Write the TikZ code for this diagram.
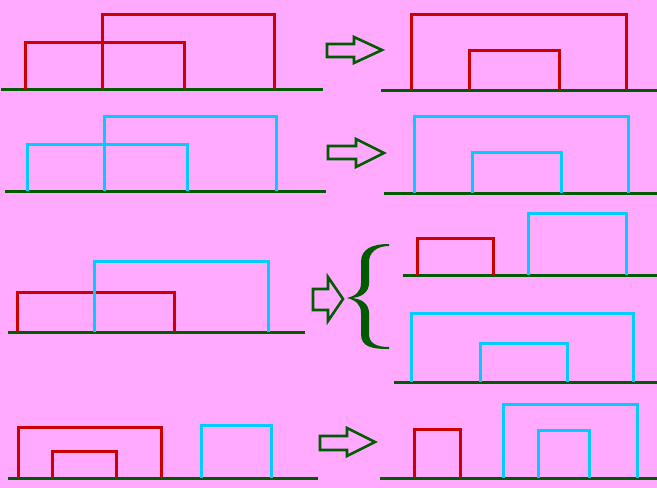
\documentclass[tikz,border=0pt]{standalone}
\definecolor{bgpink}{RGB}{255,170,255}
\definecolor{rd}{RGB}{204,0,0}
\definecolor{bl}{RGB}{0,204,255}
\definecolor{gr}{RGB}{0,90,0}
\tikzset{
  ground/.style={gr, line width=3pt},
  redbox/.style={rd, line width=3pt, line join=miter},
  bluebox/.style={bl, line width=3pt, line join=miter},
  fatarrow/.style={gr, line width=2.6pt, line join=miter},
}
\newcommand{\openrect}[5]{\draw[#1] (#2,#4) -- (#2,#5) -- (#3,#5) -- (#3,#4);}
% arrow: x0, shaft end, tip, shaft top, shaft bottom, head top, head bottom
\newcommand{\fatarr}[7]{\draw[fatarrow] (#1,#4) -- (#2,#4) -- (#2,#6) -- (#3,{(#6+#7)/2}) -- (#2,#7) -- (#2,#5) -- (#1,#5) -- cycle;}
\begin{document}
\begin{tikzpicture}[x=1pt,y=1pt,yscale=-1]
\fill[bgpink] (0,0) rectangle (657,488);
\useasboundingbox (0,0) rectangle (657,488);

% Row 1 left (red)
\draw[ground] (1,89) -- (323,89);
\openrect{redbox}{102}{274}{89}{14}
\openrect{redbox}{25}{184}{89}{42}
\fatarr{327}{354}{382}{44}{57}{37}{63}
% Row 1 right
\draw[ground] (381,90) -- (657,90);
\openrect{redbox}{411}{626}{90}{14}
\openrect{redbox}{469}{559}{90}{50}

% Row 2 left (blue)
\draw[ground] (5,191) -- (326,191);
\openrect{bluebox}{104}{276}{191}{116}
\openrect{bluebox}{27}{187}{191}{144}
\fatarr{328}{356}{384}{146}{159}{139}{167}
% Row 2 right
\draw[ground] (384,193) -- (657,193);
\openrect{bluebox}{414}{628}{193}{116}
\openrect{bluebox}{472}{561}{193}{152}

% Row 3 left (mixed)
\draw[ground] (8,332) -- (305,332);
\openrect{redbox}{17}{174}{332}{292}
\openrect{bluebox}{94}{268}{332}{261}
\fatarr{313}{328}{343}{289}{310}{277}{321}
% brace
\fill[gr] (389,244) .. controls (372,244) and (361,249) .. (361,262) -- (361,283)
  .. controls (361,292) and (355,296) .. (347,298)
  .. controls (355,300) and (361,304) .. (361,313) -- (361,334)
  .. controls (361,347) and (372,349) .. (389,349)
  -- (389,347) .. controls (376,347) and (369,343) .. (369,334) -- (369,313)
  .. controls (369,304) and (362,299) .. (352,298)
  .. controls (362,297) and (369,292) .. (369,283) -- (369,262)
  .. controls (369,253) and (376,246) .. (389,246) -- cycle;
% Row 3 right upper
\draw[ground] (403,275) -- (657,275);
\openrect{redbox}{417}{493}{275}{238}
\openrect{bluebox}{528}{626}{275}{213}
% Row 3 right lower
\draw[ground] (394,382) -- (657,382);
\openrect{bluebox}{411}{633}{382}{313}
\openrect{bluebox}{480}{567}{382}{343}

% Row 4 left
\draw[ground] (8,478) -- (318,478);
\openrect{redbox}{18}{161}{478}{427}
\openrect{redbox}{52}{116}{478}{451}
\openrect{bluebox}{201}{271}{478}{425}
\fatarr{320}{347}{375}{436}{450}{428}{456}
% Row 4 right
\draw[ground] (380,478) -- (657,478);
\openrect{redbox}{414}{460}{478}{429}
\openrect{bluebox}{503}{637}{478}{404}
\openrect{bluebox}{538}{589}{478}{430}
\end{tikzpicture}
\end{document}
